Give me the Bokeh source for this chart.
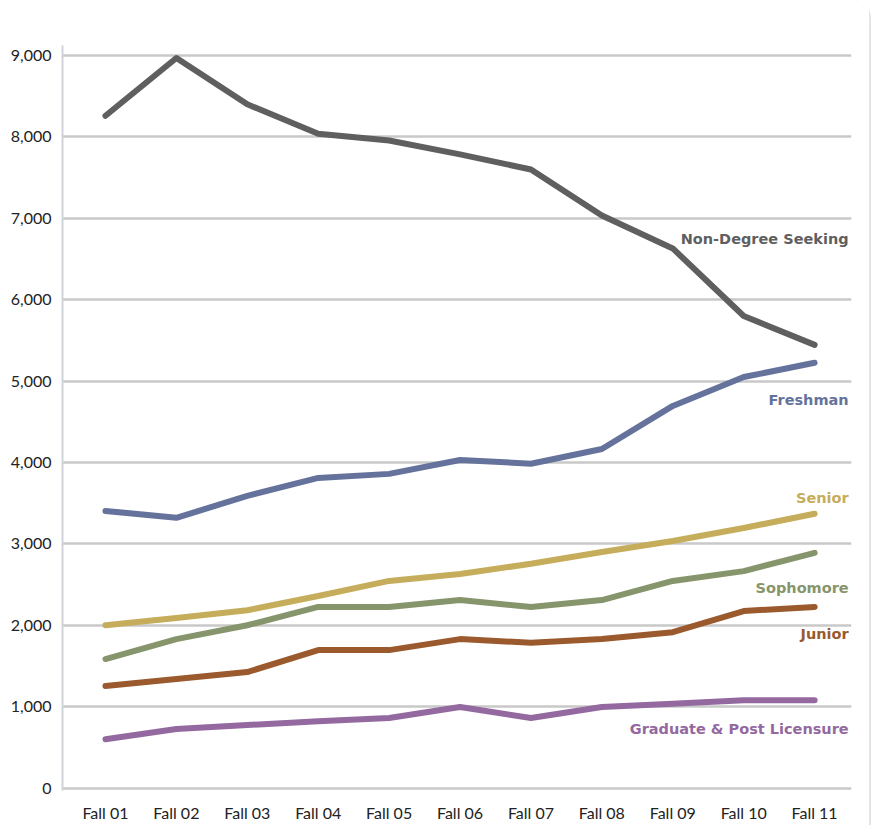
from bokeh.plotting import figure
from bokeh.models import FixedTicker, Range1d, NumeralTickFormatter
from bokeh.core.properties import value
from bokeh.embed import file_html
from bokeh.resources import INLINE

terms = ["Fall 01", "Fall 02", "Fall 03", "Fall 04", "Fall 05", "Fall 06",
         "Fall 07", "Fall 08", "Fall 09", "Fall 10", "Fall 11"]
non_degree = [8260, 8970, 8400, 8040, 7955, 7785, 7600, 7035, 6630, 5800, 5445]
freshman = [3405, 3320, 3590, 3810, 3860, 4030, 3985, 4165, 4695, 5050, 5225]
senior = [2000, 2090, 2185, 2360, 2545, 2630, 2755, 2900, 3035, 3195, 3370]
sophomore = [1585, 1830, 2000, 2225, 2225, 2310, 2225, 2310, 2545, 2665, 2890]
junior = [1255, 1340, 1425, 1695, 1695, 1830, 1785, 1830, 1915, 2175, 2225]
graduate = [600, 725, 775, 820, 860, 995, 860, 995, 1035, 1080, 1080]
y_ticks = [0, 1000, 2000, 3000, 4000, 5000, 6000, 7000, 8000, 9000]

series = [
    ("Non-Degree Seeking", non_degree, "#5f5f5f", 6740),
    ("Freshman", freshman, "#65739c", 4770),
    ("Senior", senior, "#c6ad5b", 3565),
    ("Sophomore", sophomore, "#86956b", 2460),
    ("Junior", junior, "#9a5a2d", 1895),
    ("Graduate & Post Licensure", graduate, "#93699f", 725),
]

xs = list(range(len(terms)))

p = figure(width=871, height=825, output_backend="svg", toolbar_location=None,
           x_range=Range1d(-0.606, 10.52), y_range=Range1d(-30, 9123),
           min_border_left=62, min_border_right=20, min_border_top=45,
           min_border_bottom=35)
p.outline_line_color = None
p.background_fill_color = "white"
p.border_fill_color = "white"
p.styles = {"border-right": "2px solid #e4e4e4",
            "border-top-right-radius": "18px"}

p.xgrid.grid_line_color = None
p.ygrid.grid_line_color = "#c9c9c9"
p.ygrid.grid_line_width = 2.5
p.yaxis.ticker = FixedTicker(ticks=y_ticks)
p.yaxis.formatter = NumeralTickFormatter(format="0,0")
p.xaxis.ticker = FixedTicker(ticks=xs)
p.xaxis.major_label_overrides = {i: t for i, t in enumerate(terms)}

for ax in (p.xaxis[0], p.yaxis[0]):
    ax.major_tick_line_color = None
    ax.minor_tick_line_color = None
    ax.major_label_text_font = "Lato"
    ax.major_label_text_font_size = "16px"
    ax.major_label_text_color = "#222222"
p.xaxis.axis_line_color = None
p.xaxis.major_label_standoff = 6
p.yaxis.axis_line_color = "#cfd3d8"
p.yaxis.axis_line_width = 2
p.yaxis.major_label_standoff = 5

for name, vals, color, ly in series:
    p.line(xs, vals, line_color=color, line_width=6, line_cap="round",
           line_join="round")
    p.text(x=[10.48], y=[ly], text=[name], text_color=color,
           text_font=value("DejaVu Sans"), text_font_style="bold",
           text_font_size="14.5px", text_align="right", text_baseline="middle")

open("out.html", "w").write(file_html(p, INLINE))
